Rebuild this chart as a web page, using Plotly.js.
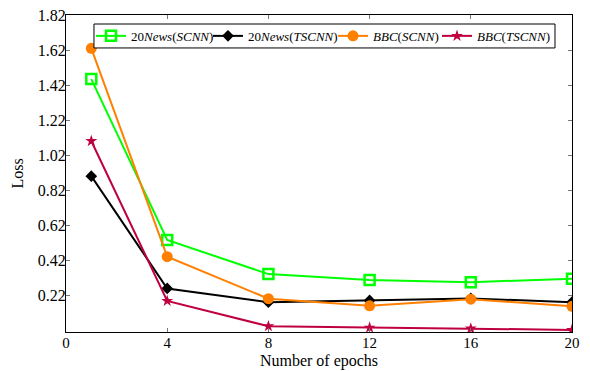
<!DOCTYPE html>
<html><head><meta charset="utf-8">
<script src="https://cdn.plot.ly/plotly-3.0.1.min.js"></script>
<style>html,body{margin:0;padding:0;background:#fff}#chart{width:590px;height:371px}</style>
</head><body><div id="chart"></div>
<script>
const epochs = [1, 4, 8, 12, 16, 20];
const news20SCNN = [1.455, 0.538, 0.344, 0.31, 0.298, 0.317];
const news20TSCNN = [0.902, 0.262, 0.184, 0.194, 0.205, 0.184];
const bbcSCNN = [1.63, 0.443, 0.204, 0.163, 0.201, 0.16];
const bbcTSCNN = [1.102, 0.191, 0.047, 0.039, 0.034, 0.026];
const seriesNames = ['20<i>News</i>(<i>SCNN</i>)', '20<i>News</i>(<i>TSCNN</i>)', '<i>BBC</i>(<i>SCNN</i>)', '<i>BBC</i>(<i>TSCNN</i>)'];
const xTicks = [0, 4, 8, 12, 16, 20];
const yTicks = [0.22, 0.42, 0.62, 0.82, 1.02, 1.22, 1.42, 1.62, 1.82];

const fontFam = '"Liberation Serif", "Times New Roman", serif';
const traces = [
  {x: epochs, y: news20SCNN, name: seriesNames[0], mode: 'lines+markers', legend: 'legend',
   line: {color: '#00ff00', width: 2}, marker: {symbol: 'square-open', size: 10, color: '#00ff00', line: {width: 2.5}}},
  {x: epochs, y: news20TSCNN, name: seriesNames[1], mode: 'lines+markers', legend: 'legend2',
   line: {color: '#000000', width: 2}, marker: {symbol: 'diamond', size: 9, color: '#000000'}},
  {x: epochs, y: bbcSCNN, name: seriesNames[2], mode: 'lines+markers', legend: 'legend3',
   line: {color: '#ff8000', width: 2}, marker: {symbol: 'circle', size: 11, color: '#ff8000'}},
  {x: epochs, y: bbcTSCNN, name: seriesNames[3], mode: 'lines+markers', legend: 'legend4',
   line: {color: '#bf0040', width: 2}, marker: {symbol: 'star', size: 9, color: '#bf0040'}}
];
function leg(x) {
  return {orientation: 'h', x: x, y: 0.934, xanchor: 'left', yanchor: 'middle',
    borderwidth: 0, bgcolor: 'rgba(0,0,0,0)', font: {family: fontFam, size: 13, color: '#000'},
    itemwidth: 30};
}
const layout = {
  width: 590, height: 371,
  margin: {l: 66, r: 18, t: 15, b: 39},
  paper_bgcolor: '#fff', plot_bgcolor: '#fff',
  font: {family: fontFam, size: 16, color: '#000'},
  showlegend: true,
  legend: leg(0.0494), legend2: leg(0.2806), legend3: leg(0.5277), legend4: leg(0.7332),
  shapes: [{type: 'rect', xref: 'paper', yref: 'paper', x0: 0.0553, x1: 0.9664, y0: 0.896, y1: 0.9716,
    line: {color: '#000', width: 1}, fillcolor: '#fff', layer: 'above'}],
  xaxis: {range: [0, 20], tickvals: xTicks, ticktext: xTicks.map(String),
    showline: true, linecolor: '#000', linewidth: 1, mirror: 'ticks', showgrid: false, zeroline: false,
    ticks: 'inside', ticklen: 4, tickcolor: '#777', tickfont: {family: fontFam, size: 15},
    ticklabelstandoff: -3,
    title: {text: 'Number of epochs', font: {family: fontFam, size: 16}, standoff: 4}},
  yaxis: {range: [0.014, 1.82], tickvals: yTicks, ticktext: yTicks.map(v => v.toFixed(2)),
    showline: true, linecolor: '#000', linewidth: 1, mirror: 'ticks', showgrid: false, zeroline: false,
    ticks: 'inside', ticklen: 4, tickcolor: '#777', tickfont: {family: fontFam, size: 16},
    ticklabelstandoff: -4,
    title: {text: 'Loss', font: {family: fontFam, size: 16}, standoff: 10}}
};
Plotly.newPlot('chart', traces, layout, {displayModeBar: false, staticPlot: true});
</script></body></html>
